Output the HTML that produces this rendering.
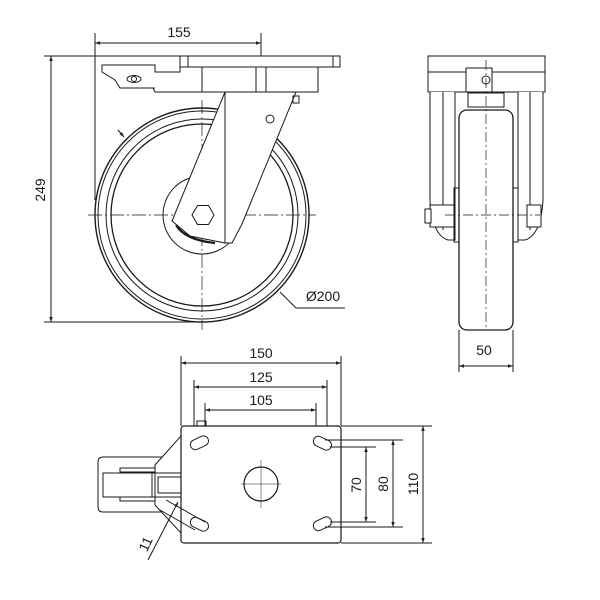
<!DOCTYPE html>
<html><head><style>html,body{margin:0;padding:0;background:#fff}svg{display:block}</style></head><body>
<svg width="600" height="600" viewBox="0 0 600 600" xmlns="http://www.w3.org/2000/svg" font-family="'Liberation Sans','DejaVu Sans',sans-serif">
<defs>
<marker id="a" viewBox="0 0 10 10" refX="10" refY="5" markerWidth="7" markerHeight="5" orient="auto-start-reverse"><path d="M0,1.5 L10,5 L0,8.5 z" fill="#222"/></marker>
</defs>
<rect width="600" height="600" fill="#fff"/>
<g stroke="#1a1a1a" stroke-width="1" fill="none">
<line x1="95" y1="33" x2="95" y2="200"/>
<line x1="261" y1="33" x2="261" y2="75"/>
<line x1="95" y1="43" x2="261" y2="43" marker-start="url(#a)" marker-end="url(#a)"/>
<line x1="44" y1="56" x2="180" y2="56"/>
<line x1="44" y1="322" x2="200" y2="322"/>
<line x1="51" y1="56" x2="51" y2="322" marker-start="url(#a)" marker-end="url(#a)"/>
<circle cx="202" cy="215" r="107" stroke-width="1.4"/>
<circle cx="202" cy="215" r="104"/>
<circle cx="202" cy="215" r="96"/>
<circle cx="202" cy="215" r="91" stroke-width="1.3"/>
<circle cx="202" cy="215" r="39" fill="#fff"/>
<line x1="88" y1="215" x2="316" y2="215" stroke-dasharray="14,3,2,3" stroke-width="0.7"/>
<line x1="202" y1="100" x2="202" y2="330" stroke-dasharray="14,3,2,3" stroke-width="0.7"/>
<polygon points="225,92 296,92 242,224 232,243 225,243 190,236 172,221" fill="#fff"/>
<line x1="225" y1="92" x2="225" y2="243"/>
<path d="M176,225 Q185,240 215,243" stroke-width="2.2"/>
<circle cx="270" cy="119" r="4"/>
<polygon points="192,215 197.5,205.5 208.5,205.5 214,215 208.5,224.5 197.5,224.5" fill="#fff"/>
<rect x="293" y="96" width="6" height="7"/>
<rect x="180" y="56" width="160" height="11" fill="#fff"/>
<line x1="188" y1="56" x2="188" y2="67"/><line x1="333" y1="56" x2="333" y2="67"/>
<rect x="202" y="67" width="116" height="25" fill="#fff"/>
<line x1="256" y1="67" x2="256" y2="92"/><line x1="266" y1="67" x2="266" y2="92"/>
<path d="M102,65 L155,65 L155,72 L180,72 L180,67 L202,67 L202,92 L155,92 L153,88 L120,88 L115,80 L102,72 Z" fill="#fff"/>
<ellipse cx="134" cy="79" rx="7" ry="3.5"/>
<circle cx="134" cy="79" r="2.5"/>
<line x1="120" y1="88" x2="155" y2="88"/>
<polyline points="280,292 296,308 345,308"/>
<line x1="118" y1="130" x2="124" y2="137" marker-end="url(#a)"/>

<rect x="428" y="56" width="117" height="16" fill="#fff"/>
<rect x="428" y="72" width="117" height="20" fill="#fff"/>
<path d="M430,92 L430,200 Q432,235 448,240 L455,240 L455,92" fill="#fff"/>
<path d="M543,92 L543,200 Q541,235 525,240 L518,240 L518,92" fill="#fff"/>
<line x1="443" y1="92" x2="443" y2="230"/><line x1="530" y1="92" x2="530" y2="230"/>
<rect x="466" y="68" width="26" height="24" fill="#fff"/>
<circle cx="486" cy="80" r="4"/>
<rect x="468" y="93" width="36" height="14" fill="#fff"/>
<rect x="459" y="110" width="54" height="220" rx="8" fill="#fff" stroke-width="1.3"/>
<rect x="454" y="188" width="5" height="54"/><rect x="513" y="188" width="5" height="54"/>
<rect x="430" y="205" width="24" height="22" fill="#fff"/>
<rect x="425" y="209" width="6" height="14" fill="#fff"/>
<rect x="527" y="205" width="14" height="22" fill="#fff"/>
<line x1="486" y1="60" x2="486" y2="330" stroke-dasharray="10,3,2,3" stroke-width="0.7"/>
<line x1="445" y1="215" x2="540" y2="215" stroke-dasharray="10,3,2,3" stroke-width="0.7"/>
<line x1="459" y1="330" x2="459" y2="372"/><line x1="513" y1="330" x2="513" y2="372"/>
<line x1="459" y1="366" x2="513" y2="366" marker-start="url(#a)" marker-end="url(#a)"/>

<line x1="181" y1="356" x2="181" y2="426"/><line x1="341" y1="356" x2="341" y2="426"/>
<line x1="181" y1="363" x2="341" y2="363" marker-start="url(#a)" marker-end="url(#a)"/>
<line x1="194" y1="380" x2="194" y2="445"/><line x1="327" y1="380" x2="327" y2="445"/>
<line x1="194" y1="387" x2="327" y2="387" marker-start="url(#a)" marker-end="url(#a)"/>
<line x1="205" y1="403" x2="205" y2="430"/><line x1="316" y1="403" x2="316" y2="436"/>
<line x1="205" y1="410" x2="316" y2="410" marker-start="url(#a)" marker-end="url(#a)"/>
<path d="M162,457 L103,457 Q98,457 98,462 L98,507 Q98,512 103,512 L162,512" fill="#fff"/>
<rect x="103" y="473" width="49" height="24"/>
<rect x="120" y="468" width="36" height="4"/><rect x="120" y="497" width="36" height="4"/>
<polygon points="181,436 181,533 155,505 155,465" fill="#fff"/>
<line x1="152" y1="473" x2="181" y2="473"/><line x1="152" y1="497" x2="181" y2="497"/>
<rect x="158" y="477" width="23" height="16"/>
<rect x="181" y="426" width="160" height="117" rx="3" fill="#fff" stroke-width="1.2"/>
<rect x="197" y="421" width="9" height="5"/>
<circle cx="261" cy="484" r="17" stroke-width="1.2"/>
<line x1="241" y1="484" x2="281" y2="484" stroke-width="0.5"/><line x1="261" y1="460" x2="261" y2="508" stroke-width="0.5"/>
<g stroke-width="1">
<rect x="190" y="438" width="19" height="10" rx="5" transform="rotate(-25 199 443)"/>
<rect x="313" y="438" width="19" height="10" rx="5" transform="rotate(25 322 443)"/>
<rect x="190" y="519" width="19" height="10" rx="5" transform="rotate(25 199 524)"/>
<rect x="313" y="519" width="19" height="10" rx="5" transform="rotate(-25 322 524)"/>
</g>
<line x1="325" y1="440" x2="403" y2="440"/><line x1="325" y1="527" x2="403" y2="527"/>
<line x1="330" y1="447" x2="376" y2="447"/><line x1="330" y1="522" x2="376" y2="522"/>
<line x1="341" y1="426" x2="432" y2="426"/><line x1="341" y1="543" x2="432" y2="543"/>
<line x1="366" y1="447" x2="366" y2="522" marker-start="url(#a)" marker-end="url(#a)"/>
<line x1="393" y1="440" x2="393" y2="527" marker-start="url(#a)" marker-end="url(#a)"/>
<line x1="423" y1="426" x2="423" y2="543" marker-start="url(#a)" marker-end="url(#a)"/>
<line x1="166" y1="500" x2="205" y2="522"/><line x1="160" y1="510" x2="195" y2="530"/>
<line x1="148" y1="560" x2="178" y2="502" marker-end="url(#a)"/>
</g>
<g fill="#1a1a1a" font-size="14">
<text x="179" y="37" text-anchor="middle">155</text>
<text transform="translate(45,190) rotate(-90)" text-anchor="middle">249</text>
<text x="323" y="301" text-anchor="middle">Ø200</text>
<text x="484" y="355" text-anchor="middle">50</text>
<text x="261" y="358" text-anchor="middle">150</text>
<text x="261" y="382" text-anchor="middle">125</text>
<text x="261" y="405" text-anchor="middle">105</text>
<text transform="translate(361,485) rotate(-90)" text-anchor="middle">70</text>
<text transform="translate(388,484) rotate(-90)" text-anchor="middle">80</text>
<text transform="translate(418,484) rotate(-90)" text-anchor="middle">110</text>
<text transform="translate(150,546) rotate(-65)" text-anchor="middle">11</text>
</g>
</svg>
</body></html>
